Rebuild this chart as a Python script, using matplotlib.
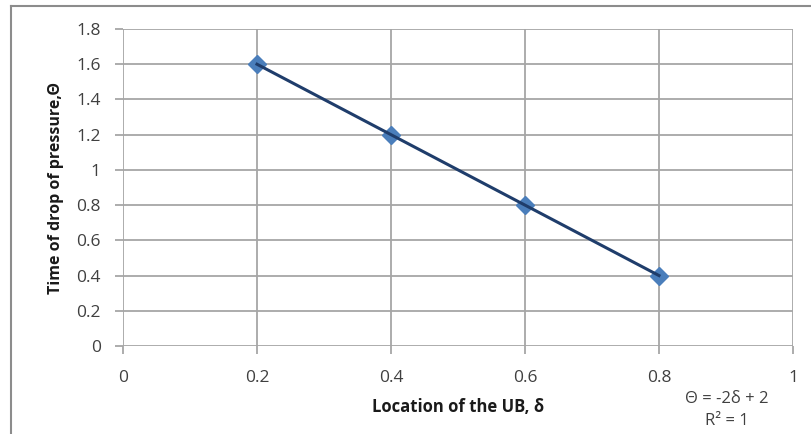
import numpy as np
import matplotlib.pyplot as plt
from matplotlib.lines import Line2D

plt.rcParams['font.family'] = ['Open Sans', 'DejaVu Sans']

# location of the UB vs time of pressure drop
delta = [0.2, 0.4, 0.6, 0.8]
theta = [1.6, 1.2, 0.8, 0.4]
xticks = [0, 0.2, 0.4, 0.6, 0.8, 1]
yticks = [0, 0.2, 0.4, 0.6, 0.8, 1, 1.2, 1.4, 1.6, 1.8]

fig = plt.figure(figsize=(8.11, 4.34), dpi=100)
ax = fig.add_axes([123 / 811, 1 - 346 / 434, 670 / 811, 317 / 434])

grid_c = '#a6a6a6'
ax.set_xlim(0, 1)
ax.set_ylim(0, 1.8)
ax.set_xticks(xticks)
ax.set_xticklabels(['0', '0.2', '0.4', '0.6', '0.8', '1'])
ax.set_yticks(yticks)
ax.set_yticklabels(['0', '0.2', '0.4', '0.6', '0.8', '1', '1.2', '1.4', '1.6', '1.8'])
ax.grid(True, color=grid_c, lw=1.3)
ax.set_axisbelow(True)
for s in ax.spines.values():
    s.set_visible(False)
ax.tick_params(axis='both', colors=grid_c, length=6, width=1.3, labelcolor='#404040',
               labelsize=12.5)
ax.tick_params(axis='x', pad=11)
ax.tick_params(axis='y', pad=10)

ax.plot(delta, theta, ls='none', marker='D', ms=9.5, color='#4a7ebb', zorder=3)

# linear trendline
k, b = np.polyfit(delta, theta, 1)
xs = np.array([delta[0], delta[-1]])
ax.plot(xs, k * xs + b, color='#1f3d6b', lw=2.2, zorder=4)

ax.set_xlabel('Location of the UB, δ', fontsize=12, fontweight='bold', color='#1a1a1a',
              labelpad=9)
ax.set_ylabel('Time of drop of pressure,Θ', fontsize=11.5, fontweight='bold', color='#1a1a1a',
              labelpad=9)

fig.text(727 / 811, 1 - 399 / 434, 'Θ = -2δ + 2', ha='center', va='center', fontsize=12,
         color='#404040')
fig.text(727 / 811, 1 - 421 / 434, 'R² = 1', ha='center', va='center', fontsize=12,
         color='#404040')

# outer chart frame
fig.add_artist(Line2D([11 / 811, 11 / 811], [0, 1 - 6 / 434], transform=fig.transFigure,
                      color='#8c8c8c', lw=1.5))
fig.add_artist(Line2D([11 / 811, 1], [1 - 6 / 434, 1 - 6 / 434], transform=fig.transFigure,
                      color='#8c8c8c', lw=1.5))

fig.savefig('out.png', dpi=100)
